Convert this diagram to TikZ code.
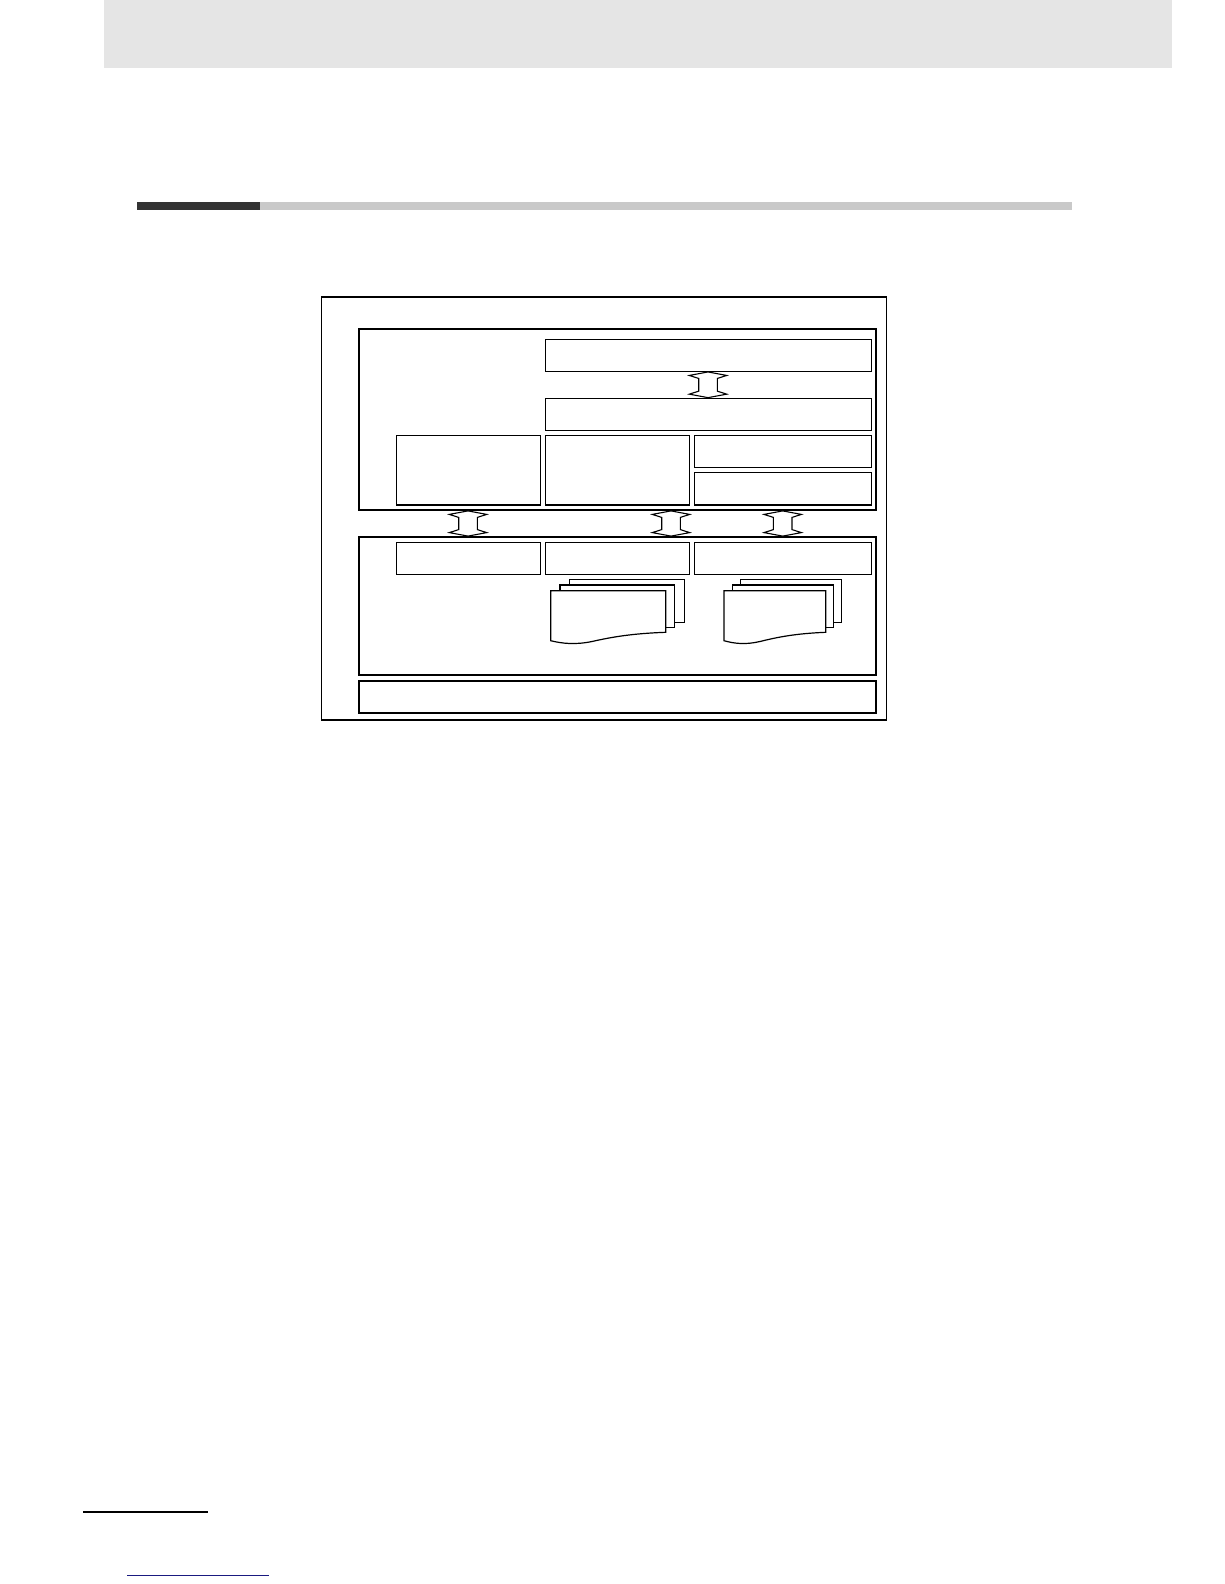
\documentclass[tikz,border=0pt]{standalone}
\usetikzlibrary{fit,calc}
\definecolor{hdrgray}{HTML}{E5E5E5}
\definecolor{ruledark}{HTML}{333333}
\definecolor{rulelight}{HTML}{C9C9C9}
\definecolor{linkblue}{HTML}{1A1A80}
\tikzset{
  frame/.style={draw=black, line width=1.3pt, inner sep=0pt},
  block/.style={draw=black, line width=1.8pt, inner sep=0pt},
  cell/.style={draw=black, line width=1.3pt, inner sep=0pt},
  basebar/.style={draw=black, line width=2pt, inner sep=0pt},
  sheet/.style={draw=black, fill=white, line width=1.2pt, line join=miter},
  dblarrow/.style={draw=black, fill=white, line width=1.1pt, line join=miter},
}
\newcommand{\hollowdblarrow}[2]{%
  \draw[dblarrow] (#1) -- ($(#1)+(18.7,3.5)$) -- ($(#1)+(9.3,6.5)$)
    -- ($(#2)+(9.3,-6.5)$) -- ($(#2)+(18.7,-3.5)$) -- (#2)
    -- ($(#2)+(-18.7,-3.5)$) -- ($(#2)+(-9.3,-6.5)$)
    -- ($(#1)+(-9.3,6.5)$) -- ($(#1)+(-18.7,3.5)$) -- cycle;}
\begin{document}
\begin{tikzpicture}[x=1pt,y=-1pt]
\useasboundingbox[fill=white] (0,0) rectangle (1224,1584);
% page header band and section rule
\fill[hdrgray] (104,0) rectangle (1172,68.5);
\fill[ruledark] (137,202) rectangle (260,210);
\fill[rulelight] (260,202) rectangle (1072,210);
% diagram frames
\node[frame, fit={(321.7,297) (886.7,720)}] (outer) {};
\node[block, fit={(359,328.7) (876.3,510)}] (upper) {};
\node[cell, fit={(545.3,339.3) (871.3,371.3)}] (topbox) {};
\node[cell, fit={(545.3,398.3) (871.3,430.3)}] (secbox) {};
\node[cell, fit={(396.3,435.3) (540.3,505)}] (lbox) {};
\node[cell, fit={(545.3,435.3) (689.7,505)}] (mbox) {};
\node[cell, fit={(694.7,435.3) (871.7,467.3)}] (rubox) {};
\node[cell, fit={(694.7,472.3) (871.7,505)}] (rlbox) {};
\node[block, fit={(359,537) (876.3,675.3)}] (lower) {};
\node[cell, fit={(396.3,542.3) (540.3,574.3)}] (lone) {};
\node[cell, fit={(545.3,542.3) (689.7,574.3)}] (ltwo) {};
\node[cell, fit={(694.7,542.3) (871.7,574.3)}] (lthree) {};
\node[basebar, fit={(359,680.7) (876.3,713.3)}] (base) {};
% arrow axes
\coordinate (xa) at (708,0);
\coordinate (xb) at (468,0);
\coordinate (xc) at (671,0);
\coordinate (xd) at (782.7,0);
\coordinate (a0t) at (xa |- topbox.south);
\coordinate (a0b) at (xa |- secbox.north);
\coordinate (a1t) at (xb |- upper.south);
\coordinate (a1b) at (xb |- lower.north);
\coordinate (a2t) at (xc |- upper.south);
\coordinate (a2b) at (xc |- lower.north);
\coordinate (a3t) at (xd |- upper.south);
\coordinate (a3b) at (xd |- lower.north);
\hollowdblarrow{a0t}{a0b}
\hollowdblarrow{a1t}{a1b}
\hollowdblarrow{a2t}{a2b}
\hollowdblarrow{a3t}{a3b}
% document stack 1
\draw[sheet] (569.3,579.7) rectangle (684.3,622.3);
\draw[sheet] (560,585) rectangle (674.3,627.7);
\draw[sheet] (550.7,590.7) -- (665.7,590.7) -- (665.7,632.3)
  .. controls (632,633.5) and (612,637) .. (592,641.5)
  .. controls (575,645) and (562,643.5) .. (550.7,640.7) -- cycle;
% document stack 2
\draw[sheet] (740.3,579.7) rectangle (841.7,622.3);
\draw[sheet] (732.7,585) rectangle (833.3,627.7);
\draw[sheet] (724,590.7) -- (825.7,590.7) -- (825.7,632.3)
  .. controls (796,633.5) and (778,637) .. (760,641.5)
  .. controls (745,645) and (734,643.5) .. (724,640.7) -- cycle;
% footer
\draw[line width=2pt] (83,1511.7) -- (208,1511.7);
\draw[linkblue, line width=1pt] (127,1575) -- (269,1575);
\end{tikzpicture}
\end{document}
